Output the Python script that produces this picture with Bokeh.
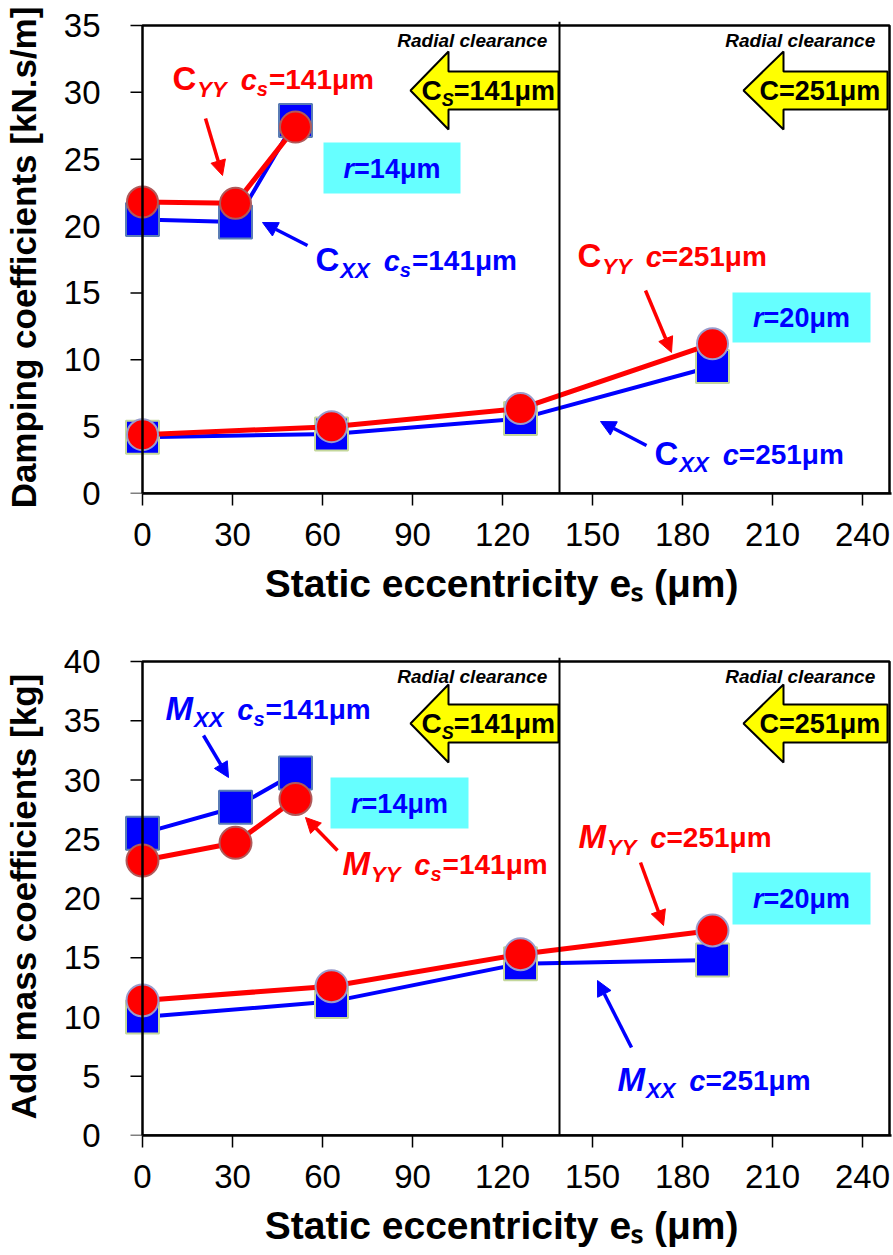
from bokeh.plotting import figure
from bokeh.layouts import column
from bokeh.models import Label, Arrow, NormalHead, Span, BoxAnnotation, Range1d
from bokeh.embed import file_html
from bokeh.resources import INLINE

FONT = "Liberation Sans"

# ---------------------------------------------------------------- data
x_ticks = [0, 30, 60, 90, 120, 150, 180, 210, 240]
ecc_cs = [0, 31, 51]          # static eccentricity for c_s = 141 um
ecc_c = [0, 63, 126, 190]     # static eccentricity for c = 251 um
split_x = 139                 # boundary between the two clearance cases

damp_ticks = [0, 5, 10, 15, 20, 25, 30, 35]
cxx_cs = [20.5, 20.3, 27.9]
cyy_cs = [21.8, 21.7, 27.4]
cxx_c = [4.2, 4.45, 5.6, 9.5]
cyy_c = [4.4, 5.0, 6.35, 11.2]

mass_ticks = [0, 5, 10, 15, 20, 25, 30, 35, 40]
mxx_cs = [25.5, 27.7, 30.6]
myy_cs = [23.2, 24.7, 28.4]
mxx_c = [10.0, 11.3, 14.5, 14.8]
myy_c = [11.4, 12.6, 15.3, 17.3]

BLUE = "#0000ff"
RED = "#ff0000"
CYAN = "#66ffff"
YELLOW = "#ffff00"

# ---------------------------------------------------------------- page geometry
PAGE_W = 893
FRAME_LEFT = 122       # frame starts a little left of x = 0 so edge markers show
X_ZERO_PX = 142        # where x = 0 sits on the page
KX = 3.0               # px per um
FRAME_W = 891 - FRAME_LEFT
X0 = -(X_ZERO_PX - FRAME_LEFT) / KX
X1 = X0 + FRAME_W / KX


class Panel:
    """Maps page pixels to data units for one of the stacked panels."""

    def __init__(self, page_top, height, frame_top, zero_px, ky):
        self.page_top = page_top
        self.height = height
        self.frame_top = frame_top          # page px
        self.zero = zero_px                 # page px of y = 0 (frame bottom)
        self.ky = ky
        self.y_end = (zero_px - frame_top) / ky

    def xd(self, px):
        return (px - X_ZERO_PX) / KX

    def yd(self, py):
        return (self.zero - py) / self.ky


# Arial-compatible advance widths (1/1000 em) for the rich labels
ADV = {" ": 278, "=": 584, "\u03bc": 611, "m": 889, "C": 722, "M": 833,
       "X": 667, "Y": 667, "S": 667, "c": 556, "s": 556, "r": 389,
       "e": 556, "(": 333, ")": 333}


def adv(text, size):
    return sum(ADV.get(ch, 556) for ch in text) * size / 1000.0


def label(p, pn, x, base, text, size, style, color, **kw):
    # Label anchors at the middle of the text box; lift it so `base` is the baseline
    p.add_layout(Label(x=pn.xd(x), y=pn.yd(base - 0.34 * size), text=text, text_font=FONT,
                       text_font_size=f"{size}px", text_font_style=style,
                       text_color=color, text_baseline="middle", **kw))


def rich(p, pn, x, base, parts, color):
    for text, size, style, dy, gap in parts:
        label(p, pn, x, base + dy, text, size, style, color)
        x += adv(text, size) + gap


def coef_label(p, pn, x, base, color, letter, sub, with_s, value):
    style = "bold" if letter == "C" else "bold italic"
    parts = [(letter, 33, style, 0, 1),
             (sub, 22, "bold italic", 7, 14),
             ("c", 29, "bold italic", 0, 0)]
    if with_s:
        parts.append(("s", 20, "bold italic", 6, 1))
    parts.append((value, 28, "bold", 0, 0))
    rich(p, pn, x, base, parts, color)


def pointer(p, pn, x0, y0, x1, y1, color):
    p.add_layout(Arrow(end=NormalHead(size=15, fill_color=color, line_color=color, line_width=1),
                       x_start=pn.xd(x0), y_start=pn.yd(y0), x_end=pn.xd(x1), y_end=pn.yd(y1),
                       line_color=color, line_width=3.5))


def clearance_arrow(p, pn, tip, base, end, yc):
    xs = [tip, base, base, end, end, base, base]
    ys = [yc, yc - 39, yc - 19, yc - 19, yc + 19, yc + 19, yc + 39]
    p.patch([pn.xd(v) for v in xs], [pn.yd(v) for v in ys],
            fill_color=YELLOW, line_color="black", line_width=2)


def clearance_block(p, pn, yc, radial_base):
    for right in (552, 880):
        label(p, pn, right, radial_base, "Radial  clearance", 19, "bold italic", "black",
              text_align="right")
    clearance_arrow(p, pn, 410, 448, 558, yc)
    clearance_arrow(p, pn, 743, 783, 887, yc)
    rich(p, pn, 421, yc + 10, [("C", 28, "bold", 0, 0), ("S", 18, "bold italic", 6, 0),
                               ("=141\u03bcm", 27, "bold", 0, 0)], "black")
    rich(p, pn, 759, yc + 10, [("C=251\u03bcm", 27, "bold", 0, 0)], "black")


def radius_box(p, pn, left, top, right, bottom, value):
    p.add_layout(BoxAnnotation(left=pn.xd(left), right=pn.xd(right), top=pn.yd(top),
                               bottom=pn.yd(bottom), fill_color=CYAN, fill_alpha=1,
                               line_color=None))
    parts = [("r", 27, "bold italic", 0, 0), (value, 27, "bold", 0, 0)]
    width = sum(adv(t, s) for t, s, *_ in parts)
    rich(p, pn, (left + right) / 2 - width / 2, (top + bottom) / 2 + 10, parts, BLUE)


def make_panel(pn, ticks, y_title):
    border_top = pn.frame_top - pn.page_top
    frame_h = pn.zero - pn.frame_top
    p = figure(width=PAGE_W, height=pn.height, frame_width=FRAME_W, frame_height=frame_h,
               x_range=Range1d(X0, X1), y_range=Range1d(0, pn.y_end),
               min_border_left=FRAME_LEFT, min_border_right=PAGE_W - FRAME_LEFT - FRAME_W,
               min_border_top=border_top, min_border_bottom=pn.height - border_top - frame_h,
               output_backend="svg", toolbar_location=None)
    p.outline_line_color = None
    p.xgrid.visible = False
    p.ygrid.visible = False
    p.background_fill_color = "white"
    p.border_fill_color = "white"

    xa = p.xaxis[0]
    ya = p.yaxis[0]
    xa.ticker = x_ticks
    xa.bounds = (0, X1)
    ya.ticker = ticks
    for ax in (xa, ya):
        ax.major_label_text_font = FONT
        ax.major_label_text_font_size = "33px"
        ax.major_label_text_color = "black"
        ax.minor_tick_line_color = None
        ax.axis_label_text_font = FONT
        ax.axis_label_text_font_style = "bold"
        ax.axis_label_text_color = "black"
    xa.axis_line_width = 2.5
    xa.axis_line_color = "black"
    xa.major_tick_line_width = 1.5
    xa.major_tick_line_color = "black"
    xa.major_tick_out = 12
    xa.major_tick_in = 0
    xa.major_label_standoff = 17
    xa.axis_label = "Static eccentricity  e\u209b (\u03bcm)"
    xa.axis_label_text_font_size = "39px"
    xa.axis_label_standoff = 13

    # the y axis sits at x = 0, right of the frame edge: its line and ticks are
    # drawn inside the frame, the side axis keeps the labels and the title
    ya.axis_line_color = None
    ya.major_tick_line_color = None
    ya.major_label_standoff = 16
    ya.axis_label = y_title
    ya.axis_label_text_font_size = "35px"
    ya.axis_label_standoff = 18

    n = len(ticks)
    p.segment(x0=[pn.xd(X_ZERO_PX - 12)] * n, y0=ticks, x1=[0] * n, y1=ticks,
              line_color="black", line_width=1.5)
    p.add_layout(BoxAnnotation(left=0, right=pn.xd(889), bottom=0, top=ticks[-1],
                               fill_color=None, fill_alpha=0, line_color="black",
                               line_alpha=1, line_width=2.5))
    p.add_layout(Span(location=split_x, dimension="height", line_color="black", line_width=2))
    return p


def series(p, x, y, color, marker, size, edge, lw):
    p.line(x, y, line_color=color, line_width=lw)
    p.scatter(x, y, marker=marker, size=size, fill_color=color, line_color=edge, line_width=2)


# ---------------------------------------------------------------- damping panel
top = Panel(page_top=0, height=615, frame_top=21, zero_px=493, ky=468 / 35)
p1 = make_panel(top, damp_ticks, "Damping coefficients [kN.s/m]")
clearance_block(p1, top, 90, 46)
radius_box(p1, top, 323, 142, 460, 193, "=14\u03bcm")
radius_box(p1, top, 732, 292, 870, 342, "=20\u03bcm")

series(p1, ecc_cs, cxx_cs, BLUE, "square", 33, "#5a7db5", 4)
series(p1, ecc_c, cxx_c, BLUE, "square", 33, "#c4d79b", 4)
series(p1, ecc_cs, cyy_cs, RED, "circle", 31, "#b05a5a", 5)
series(p1, ecc_c, cyy_c, RED, "circle", 31, "#9a9ccc", 5)

coef_label(p1, top, 172, 89, RED, "C", "YY", True, "=141\u03bcm")
coef_label(p1, top, 315, 270, BLUE, "C", "XX", True, "=141\u03bcm")
coef_label(p1, top, 577, 266, RED, "C", "YY", False, "=251\u03bcm")
coef_label(p1, top, 654, 464, BLUE, "C", "XX", False, "=251\u03bcm")
pointer(p1, top, 205, 118, 222, 175, RED)
pointer(p1, top, 307, 245, 262, 222, BLUE)
pointer(p1, top, 645, 290, 671, 352, RED)
pointer(p1, top, 646, 445, 600, 421, BLUE)

# ---------------------------------------------------------------- added mass panel
bot = Panel(page_top=615, height=640, frame_top=657, zero_px=1135, ky=474 / 40)
p2 = make_panel(bot, mass_ticks, "Add mass coefficients [kg]")
clearance_block(p2, bot, 723, 682)
radius_box(p2, bot, 330, 777, 468, 828, "=14\u03bcm")
radius_box(p2, bot, 732, 872, 870, 924, "=20\u03bcm")

series(p2, ecc_cs, mxx_cs, BLUE, "square", 33, "#5a7db5", 4)
series(p2, ecc_c, mxx_c, BLUE, "square", 33, "#c4d79b", 4)
series(p2, ecc_cs, myy_cs, RED, "circle", 32, "#b05a5a", 5)
series(p2, ecc_c, myy_c, RED, "circle", 32, "#9a9ccc", 5)

coef_label(p2, bot, 165, 719, BLUE, "M", "XX", True, "=141\u03bcm")
coef_label(p2, bot, 342, 874, RED, "M", "YY", True, "=141\u03bcm")
coef_label(p2, bot, 578, 847, RED, "M", "YY", False, "=251\u03bcm")
coef_label(p2, bot, 617, 1090, BLUE, "M", "XX", False, "=251\u03bcm")
pointer(p2, bot, 203, 735, 228, 777, BLUE)
pointer(p2, bot, 337, 850, 305, 817, RED)
pointer(p2, bot, 640, 862, 663, 925, RED)
pointer(p2, bot, 631, 1047, 597, 980, BLUE)

layout = column(p1, p2, spacing=0)
open("out.html", "w").write(file_html(layout, INLINE))
